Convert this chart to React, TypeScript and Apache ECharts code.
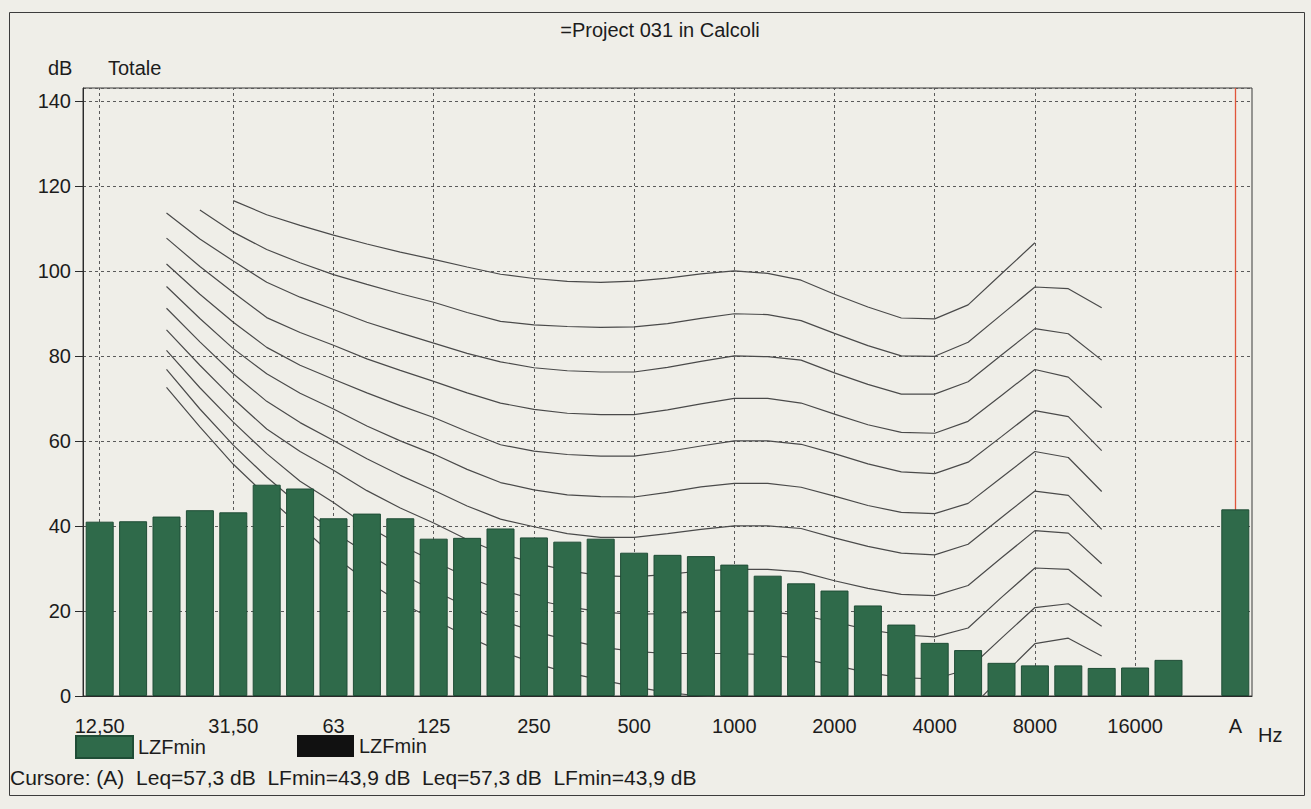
import { useEffect, useRef } from "react";
import * as echarts from "echarts";

// ---- categories (1/3 octave bands + total) ----
const bandLabels = [
  "12,50", "16", "20", "25", "31,50", "40", "50", "63", "80", "100", "125",
  "160", "200", "250", "315", "400", "500", "630", "800", "1000", "1250",
  "1600", "2000", "2500", "3150", "4000", "5000", "6300", "8000", "10000",
  "12500", "16000", "20000",
];
const gapLabel = " ";
const totalLabel = "A";
const tickLabels = ["12,50", "31,50", "63", "125", "250", "500", "1000", "2000", "4000", "8000", "16000", "A"];
const gridLabels = ["12,50", "31,50", "63", "125", "250", "500", "1000", "2000", "4000", "8000", "16000"];

// ---- measured spectrum LZFmin (dB) ----
const lzfMinBands = [
  41.0, 41.1, 42.2, 43.7, 43.2, 49.7, 48.8, 41.8, 42.9, 41.8, 37.0, 37.2, 39.4,
  37.3, 36.3, 37.0, 33.7, 33.2, 32.9, 30.9, 28.3, 26.5, 24.8, 21.3, 16.8, 12.5,
  10.8, 7.8, 7.2, 7.2, 6.6, 6.7, 8.5,
];
const lzfMinTotal = 43.9;

// ---- equal loudness contours (dB), each starting at the given band ----
const phon100Start = "31,50";
const phon100 = [116.5, 113.2, 110.7, 108.4, 106.3, 104.4, 102.7, 100.9, 99.2, 98.2, 97.5, 97.3, 97.6, 98.3, 99.3, 100.0, 99.4, 97.8, 94.5, 91.5, 88.9, 88.7, 92.0, 99.3, 106.6];
const phon90Start = "25";
const phon90 = [114.3, 109.1, 105.0, 101.9, 99.1, 96.8, 94.6, 92.6, 90.2, 88.1, 87.3, 86.9, 86.7, 86.8, 87.6, 88.8, 89.9, 89.7, 88.3, 85.3, 82.4, 80.0, 79.9, 83.2, 89.7, 96.2, 95.8, 91.3];
const phon80Start = "20";
const phon80 = [113.6, 107.5, 102.3, 97.3, 93.8, 90.9, 87.9, 85.4, 83.0, 80.6, 78.6, 77.2, 76.5, 76.2, 76.2, 77.3, 78.7, 80.0, 79.8, 79.0, 76.0, 73.3, 71.0, 71.0, 73.9, 80.2, 86.4, 85.2, 79.0];
const phon70Start = "20";
const phon70 = [107.7, 101.0, 94.9, 89.0, 85.5, 82.5, 79.3, 76.6, 74.0, 71.3, 68.9, 67.4, 66.5, 66.2, 66.2, 67.3, 68.7, 70.0, 70.0, 68.9, 66.3, 63.8, 62.0, 61.8, 64.6, 70.7, 76.8, 75.0, 67.8];
const phon60Start = "20";
const phon60 = [101.6, 94.5, 87.9, 82.0, 77.8, 74.5, 71.3, 68.3, 65.5, 62.2, 59.1, 57.6, 56.8, 56.4, 56.4, 57.5, 58.8, 60.0, 60.0, 59.2, 57.0, 54.6, 52.7, 52.3, 55.0, 61.0, 67.1, 65.7, 57.7];
const phon50Start = "20";
const phon50 = [96.3, 88.8, 81.7, 75.8, 71.2, 67.5, 63.5, 60.0, 56.9, 53.3, 50.2, 48.5, 47.3, 46.9, 46.8, 47.9, 49.2, 50.0, 50.0, 49.1, 47.0, 44.8, 43.2, 42.9, 45.3, 51.4, 57.5, 56.1, 48.1];
const phon40Start = "20";
const phon40 = [91.2, 83.3, 75.8, 69.3, 64.3, 60.1, 55.8, 51.9, 48.4, 44.7, 41.6, 39.8, 38.2, 37.3, 37.3, 38.2, 39.2, 40.0, 40.0, 39.4, 37.2, 35.2, 33.6, 33.2, 35.7, 42.0, 48.2, 47.2, 39.2];
const phon30Start = "20";
const phon30 = [86.1, 77.8, 69.9, 62.8, 57.5, 53.1, 48.3, 44.2, 40.7, 36.8, 33.5, 31.3, 29.5, 28.3, 28.0, 28.6, 29.4, 29.8, 29.8, 29.2, 27.1, 25.3, 23.9, 23.6, 26.0, 32.5, 38.9, 38.3, 31.1];
const phon20Start = "20";
const phon20 = [81.3, 72.5, 64.4, 57.0, 50.5, 45.5, 40.0, 35.5, 31.7, 28.0, 25.0, 22.7, 21.0, 19.8, 19.2, 19.4, 19.8, 20.0, 19.8, 19.0, 17.4, 15.6, 14.4, 13.9, 16.0, 23.2, 30.1, 29.8, 23.4];
const phon10Start = "20";
const phon10 = [76.8, 67.5, 59.0, 51.5, 44.8, 38.6, 33.6, 28.8, 24.8, 21.0, 17.8, 15.2, 13.2, 11.5, 10.5, 10.0, 10.0, 10.0, 9.7, 8.8, 7.2, 5.5, 4.3, 4.0, 6.3, 13.6, 20.8, 21.7, 16.4];
const phon0Start = "20";
const phon0 = [72.6, 63.3, 54.5, 47.0, 40.0, 33.0, 27.0, 22.0, 18.0, 14.0, 10.5, 7.8, 5.5, 3.8, 2.2, 0.8, 0.0, -0.5, -1.0, -2.0, -3.5, -5.5, -7.0, -7.0, -3.5, 4.5, 12.3, 13.6, 9.4];

const curves: [string, number[]][] = [
  [phon100Start, phon100], [phon90Start, phon90], [phon80Start, phon80],
  [phon70Start, phon70], [phon60Start, phon60], [phon50Start, phon50],
  [phon40Start, phon40], [phon30Start, phon30], [phon20Start, phon20],
  [phon10Start, phon10], [phon0Start, phon0],
];

const FONT = "'Liberation Sans', Arial, sans-serif";
const TEXT = "#1c1c1c";
const PAPER = "#efeee8";
const GRIDC = "#5a5a5a";

export default function App() {
  const ref = useRef<HTMLDivElement>(null);

  useEffect(() => {
    if (!ref.current) return;
    const chart = echarts.init(ref.current, undefined, { renderer: "svg" });
    const categories = [...bandLabels, gapLabel, totalLabel];
    const barData = [...lzfMinBands, null, lzfMinTotal];
    const curveData = (start: string, values: number[]) => {
      const s = categories.indexOf(start);
      return categories.map((_, i) => (i >= s && i < s + values.length ? values[i - s] : null));
    };

    const lineSeries = curves.map(([start, values], k) => ({
      type: "line",
      name: "curve" + k,
      data: curveData(start, values),
      symbol: "none",
      silent: true,
      z: 2,
      lineStyle: { color: "#4a4a4a", width: 1.2 },
      markLine: k === 0 ? {
        z: 1,
        silent: true,
        symbol: ["none", "none"],
        label: { show: false },
        lineStyle: { color: GRIDC, type: [3, 3], width: 1 },
        data: gridLabels.map((l) => ({ xAxis: l })),
      } : undefined,
    }));

    const legendText = { fontSize: 20, color: TEXT, fontFamily: FONT };

    chart.setOption({
      animation: false,
      backgroundColor: PAPER,
      textStyle: { fontFamily: FONT },
      grid: { left: 83, right: 59, top: 88, bottom: 113, show: true, borderColor: "#3a3a3a", borderWidth: 1 },
      legend: [
        {
          data: ["LZFmin"], left: 75, top: 735, padding: 0, icon: "rect", itemWidth: 57, itemHeight: 22,
          selectedMode: false, textStyle: legendText,
        },
        {
          data: ["LZFmin "], left: 297, top: 735, padding: 0, icon: "rect", itemWidth: 57, itemHeight: 22,
          selectedMode: false, formatter: (n: string) => n.trim(), textStyle: legendText,
        },
      ],
      xAxis: {
        type: "category",
        data: categories,
        boundaryGap: true,
        axisLine: { lineStyle: { color: "#2a2a2a", width: 1 } },
        axisTick: { show: false },
        axisLabel: {
          interval: 0,
          margin: 20,
          fontSize: 20,
          color: TEXT,
          fontFamily: FONT,
          formatter: (v: string) => (tickLabels.includes(v) ? v : ""),
        },
        splitLine: { show: false },
      },
      yAxis: {
        type: "value",
        min: 0,
        max: 143,
        interval: 20,
        axisLine: { show: true, lineStyle: { color: "#2a2a2a", width: 1 } },
        axisTick: { show: true, length: 8, lineStyle: { color: "#2a2a2a" } },
        axisLabel: { margin: 12, fontSize: 20, color: TEXT, fontFamily: FONT, showMaxLabel: false },
        splitLine: { show: true, lineStyle: { color: GRIDC, type: [3, 3], width: 1 } },
      },
      graphic: [
        { type: "rect", silent: true, shape: { x: 9.5, y: 12.5, width: 1295, height: 783 }, style: { fill: "none", stroke: "#3c3c3c", lineWidth: 1 } },
        { type: "text", silent: true, x: 660, y: 30, style: { text: "=Project 031 in Calcoli", fontSize: 20, fontFamily: FONT, fill: TEXT, align: "center", verticalAlign: "middle" } },
        { type: "text", silent: true, x: 48, y: 68, style: { text: "dB", fontSize: 20, fontFamily: FONT, fill: TEXT, align: "left", verticalAlign: "middle" } },
        { type: "text", silent: true, x: 108, y: 68, style: { text: "Totale", fontSize: 20, fontFamily: FONT, fill: TEXT, align: "left", verticalAlign: "middle" } },
        { type: "text", silent: true, x: 1258, y: 735, style: { text: "Hz", fontSize: 20, fontFamily: FONT, fill: TEXT, align: "left", verticalAlign: "middle" } },
        { type: "text", silent: true, x: 10, y: 777, style: { text: "Cursore: (A)  Leq=57,3 dB  LFmin=43,9 dB  Leq=57,3 dB  LFmin=43,9 dB", fontSize: 21, fontFamily: FONT, fill: TEXT, align: "left", verticalAlign: "middle" } },
      ],
      series: [
        ...lineSeries,
        {
          type: "bar",
          name: "LZFmin",
          data: barData,
          barWidth: 28,
          z: 3,
          itemStyle: { color: "#2f6a4a", borderColor: "#1f4d36", borderWidth: 1 },
          markLine: {
            z: 1,
            silent: true,
            symbol: ["none", "none"],
            label: { show: false },
            lineStyle: { color: "#e0553a", type: "solid", width: 1.3 },
            data: [{ xAxis: totalLabel }],
          },
        },
        {
          type: "line",
          name: "LZFmin ",
          data: [],
          symbol: "none",
          itemStyle: { color: "#111" },
          lineStyle: { color: "#111" },
        },
      ],
    });
    return () => chart.dispose();
  }, []);

  return (
    <div
      ref={ref}
      style={{ position: "fixed", left: 0, top: 0, width: 1311, height: 809, background: PAPER }}
    />
  );
}
